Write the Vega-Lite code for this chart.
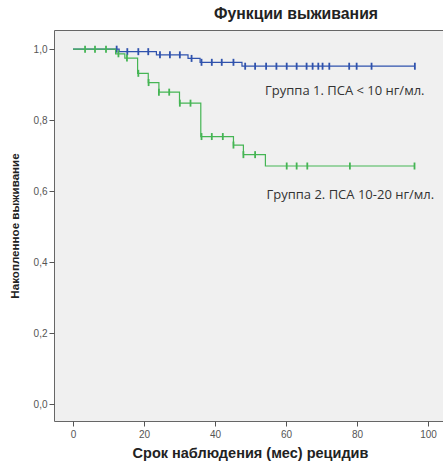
{
  "$schema": "https://vega.github.io/schema/vega-lite/v6.json",
  "width": 392,
  "height": 391,
  "autosize": "none",
  "padding": {"left": 54, "top": 30, "right": 0, "bottom": 47},
  "background": "white",
  "config": {
    "view": {"fill": "#f0f0f0", "stroke": "#666666", "strokeWidth": 1},
    "font": "Liberation Sans"
  },
  "title": {"text": "Функции выживания", "fontSize": 15.8, "fontWeight": "bold", "color": "#222222", "anchor": "middle", "dx": 46, "offset": 7, "font": "Liberation Sans"},
  "datasets": {
    "steps": [
      {"group": "1", "t": 0, "s": 1.0},
      {"group": "1", "t": 13, "s": 0.993},
      {"group": "1", "t": 23.5, "s": 0.984},
      {"group": "1", "t": 32.4, "s": 0.974},
      {"group": "1", "t": 35.8, "s": 0.963},
      {"group": "1", "t": 47.6, "s": 0.952},
      {"group": "1", "t": 96.3, "s": 0.952},
      {"group": "2", "t": 0, "s": 1.0},
      {"group": "2", "t": 12.0, "s": 0.987},
      {"group": "2", "t": 14.6, "s": 0.975},
      {"group": "2", "t": 18.2, "s": 0.932},
      {"group": "2", "t": 21.2, "s": 0.906},
      {"group": "2", "t": 24.2, "s": 0.879},
      {"group": "2", "t": 30.0, "s": 0.848},
      {"group": "2", "t": 36.0, "s": 0.754},
      {"group": "2", "t": 45.2, "s": 0.730},
      {"group": "2", "t": 48.0, "s": 0.703},
      {"group": "2", "t": 54.2, "s": 0.671},
      {"group": "2", "t": 96.2, "s": 0.671}
    ],
    "cens": [
      {"group": "2", "t": 3.4, "s": 1.0},
      {"group": "2", "t": 6.2, "s": 1.0},
      {"group": "2", "t": 9.3, "s": 1.0},
      {"group": "2", "t": 12.8, "s": 0.987},
      {"group": "2", "t": 15.2, "s": 0.975},
      {"group": "2", "t": 18.4, "s": 0.932},
      {"group": "2", "t": 21.3, "s": 0.906},
      {"group": "2", "t": 24.2, "s": 0.879},
      {"group": "2", "t": 27.1, "s": 0.879},
      {"group": "2", "t": 30.1, "s": 0.848},
      {"group": "2", "t": 33.1, "s": 0.848},
      {"group": "2", "t": 36.2, "s": 0.754},
      {"group": "2", "t": 39.1, "s": 0.754},
      {"group": "2", "t": 42.2, "s": 0.754},
      {"group": "2", "t": 45.2, "s": 0.730},
      {"group": "2", "t": 48.0, "s": 0.703},
      {"group": "2", "t": 51.3, "s": 0.703},
      {"group": "2", "t": 60.2, "s": 0.671},
      {"group": "2", "t": 63.0, "s": 0.671},
      {"group": "2", "t": 66.0, "s": 0.671},
      {"group": "2", "t": 78.0, "s": 0.671},
      {"group": "2", "t": 96.2, "s": 0.671},
      {"group": "1", "t": 12.3, "s": 1.0},
      {"group": "1", "t": 15.3, "s": 0.993},
      {"group": "1", "t": 18.4, "s": 0.993},
      {"group": "1", "t": 21.2, "s": 0.993},
      {"group": "1", "t": 24.5, "s": 0.984},
      {"group": "1", "t": 27.3, "s": 0.984},
      {"group": "1", "t": 30.1, "s": 0.984},
      {"group": "1", "t": 33.4, "s": 0.974},
      {"group": "1", "t": 36.2, "s": 0.963},
      {"group": "1", "t": 39.1, "s": 0.963},
      {"group": "1", "t": 41.9, "s": 0.963},
      {"group": "1", "t": 45.2, "s": 0.963},
      {"group": "1", "t": 48.5, "s": 0.952},
      {"group": "1", "t": 51.3, "s": 0.952},
      {"group": "1", "t": 54.4, "s": 0.952},
      {"group": "1", "t": 57.3, "s": 0.952},
      {"group": "1", "t": 60.2, "s": 0.952},
      {"group": "1", "t": 63.0, "s": 0.952},
      {"group": "1", "t": 65.8, "s": 0.952},
      {"group": "1", "t": 67.5, "s": 0.952},
      {"group": "1", "t": 69.1, "s": 0.952},
      {"group": "1", "t": 70.3, "s": 0.952},
      {"group": "1", "t": 72.2, "s": 0.952},
      {"group": "1", "t": 77.8, "s": 0.952},
      {"group": "1", "t": 79.9, "s": 0.952},
      {"group": "1", "t": 84.1, "s": 0.952},
      {"group": "1", "t": 96.3, "s": 0.952}
    ],
    "labels": [
      {"label": "Группа 1. ПСА < 10 нг/мл.", "t": 54.1, "s": 0.881},
      {"label": "Группа 2. ПСА 10-20 нг/мл.", "t": 54.5, "s": 0.588}
    ]
  },
  "encoding": {
    "x": {"field": "t", "type": "quantitative",
      "scale": {"domain": [-5.35, 105.07], "nice": false, "zero": false},
      "axis": {"title": "Срок наблюдения (мес) рецидив", "values": [0, 20, 40, 60, 80, 100], "grid": false, "domain": false,
        "tickColor": "#555555", "tickSize": 5, "labelFontSize": 10, "labelColor": "#555555", "labelPadding": 3,
        "titleFontSize": 14.5, "titleFontWeight": "bold", "titleColor": "#222222", "titlePadding": 7}},
    "y": {"field": "s", "type": "quantitative",
      "scale": {"domain": [-0.047, 1.054], "nice": false, "zero": false},
      "axis": {"title": "Накопленное выживание", "values": [0, 0.2, 0.4, 0.6, 0.8, 1.0], "grid": false, "domain": false,
        "labelExpr": "replace(format(datum.value, '.1f'), '.', ',')",
        "tickColor": "#555555", "tickSize": 5, "labelFontSize": 10, "labelColor": "#555555", "labelPadding": 2,
        "titleFontSize": 11.6, "titleFontWeight": "bold", "titleColor": "#222222", "titlePadding": 13}}
  },
  "layer": [
    {"data": {"name": "steps"}, "transform": [{"filter": "datum.group == '1'"}], "mark": {"type": "line", "interpolate": "step-after", "strokeWidth": 1.2, "color": "#2f52ad"}},
    {"data": {"name": "cens"}, "transform": [{"filter": "datum.group == '1'"}], "mark": {"type": "tick", "orient": "vertical", "size": 7, "thickness": 1.8, "color": "#2f52ad", "opacity": 1}},
    {"data": {"name": "steps"}, "transform": [{"filter": "datum.group == '2'"}], "mark": {"type": "line", "interpolate": "step-after", "strokeWidth": 1.2, "color": "#45b554"}},
    {"data": {"name": "cens"}, "transform": [{"filter": "datum.group == '2'"}], "mark": {"type": "tick", "orient": "vertical", "size": 7, "thickness": 1.8, "color": "#45b554", "opacity": 1}},
    {"data": {"name": "labels"}, "mark": {"type": "text", "align": "left", "baseline": "middle", "font": "Open Sans", "fontSize": 13, "color": "#333333"},
      "encoding": {"text": {"field": "label"}}}
  ]
}
